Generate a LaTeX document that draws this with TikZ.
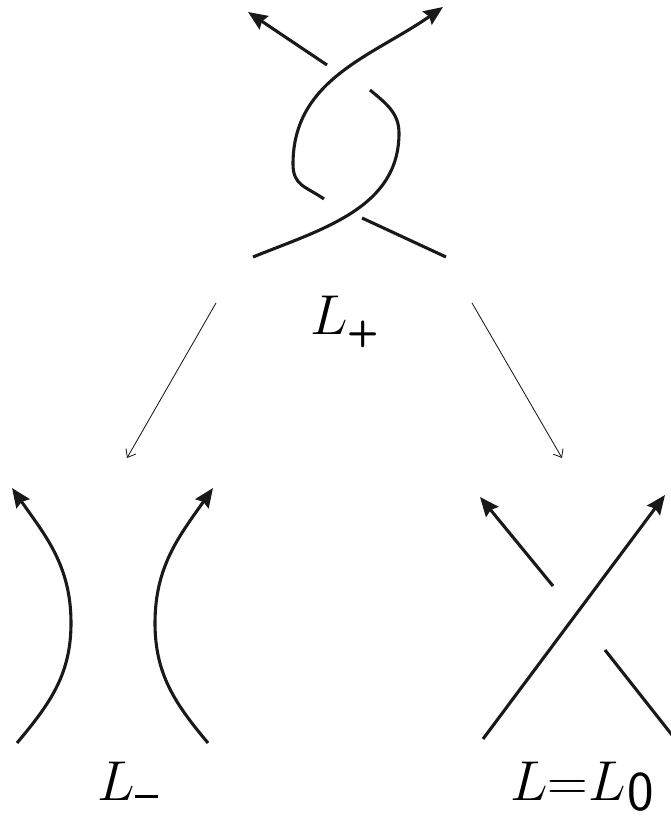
\RequirePackage{fix-cm}
\documentclass[tikz,border=0pt]{standalone}
\usetikzlibrary{arrows.meta, positioning, calc}

\newcommand{\knotsub}[1]{\mbox{\fontsize{26}{26}\selectfont\sffamily\bfseries #1}}

\begin{document}
\begin{tikzpicture}[
    x=0.025cm, y=0.025cm,
    >={Stealth},
    strand/.style={line width=2.2pt, black!90},
    orient/.style={strand, -{Stealth[length=0.48cm, width=0.4cm, inset=0.06cm]}},
    skein/.style={line width=0.6pt, black!90, -{Straight Barb[length=5pt, width=8pt]}},
    lbl/.style={font=\fontsize{40}{46}\selectfont, inner sep=0pt, anchor=base}
  ]
    \useasboundingbox (0,0) rectangle (670,819);
    \draw[strand] (253,562) to[out=22,in=-90] (399,686) to[out=90,in=-40] (370,729);
    \draw[orient] (327,754) -- (248,807);
    \draw[strand] (446,562) -- (362,601);
    \draw[orient] (324,620) to[out=145,in=-90,looseness=1.2] (293,655) to[out=90,in=-145] (443,812);
    \node[lbl] (lplus) at (345,484) {$L_{\knotsub{+}}$};
    \coordinate (sl0) at (216,516);
    \coordinate (sl1) at (127,361);
    \coordinate (sr0) at (472,516);
    \coordinate (sr1) at (562,361);
    \draw[skein] (sl0) -- (sl1);
    \draw[skein] (sr0) -- (sr1);
    \draw[orient] (17,76) to[out=50,in=-90] (71,196) to[out=90,in=-55] (12,331);
    \draw[orient] (208,76) to[out=130,in=-90] (155,196) to[out=90,in=-125] (213,331);
    \node[lbl] (lminus) at (128,19) {$L_{\rule[0.25cm]{0.58cm}{0.08cm}}$};
    \draw[orient] (483,80) -- (665,324);
    \draw[orient] (553,233) -- (480,322);
    \draw[strand] (605,169) -- (672,84);
    \node[lbl] (lzero) at (582,19) {$L{=}L\kern0.03cm\raisebox{-0.26cm}{$\mathsf{0}$}$};
  \end{tikzpicture}
\end{document}
